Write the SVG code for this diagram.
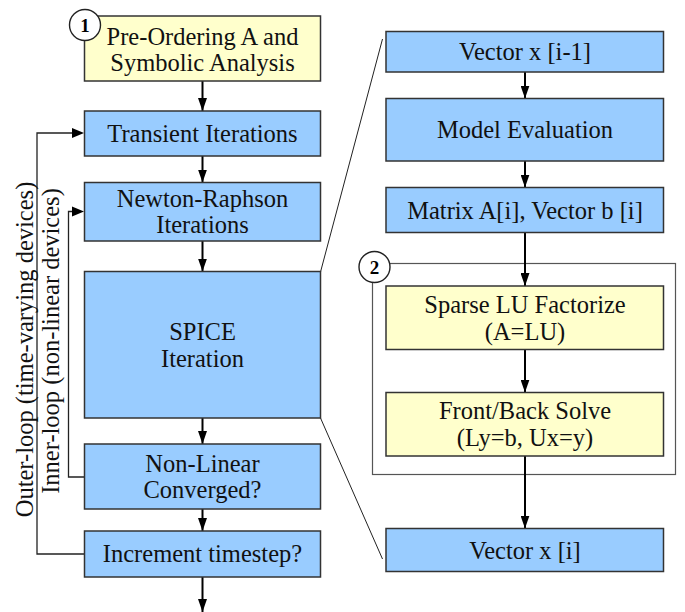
<svg xmlns="http://www.w3.org/2000/svg" width="685" height="612" viewBox="0 0 685 612">
  <defs>
    <marker id="arrowDown" viewBox="0 0 9 13" refX="4.5" refY="13" markerWidth="9" markerHeight="13" markerUnits="userSpaceOnUse" orient="0">
      <path d="M0,0 L9,0 L4.5,13 Z" fill="#000"/>
    </marker>
    <style>
      .blue { fill: #99ccff; stroke: #333; stroke-width: 1.5; }
      .yellow { fill: #ffffcc; stroke: #333; stroke-width: 1.5; }
      .frame { fill: none; stroke: #555; stroke-width: 1.2; }
      .lbl { font-family: 'Liberation Serif', serif; font-size: 24.5px; fill: #111; text-anchor: middle; }
      .num { font-family: 'Liberation Serif', serif; font-size: 19px; font-weight: bold; fill: #000; text-anchor: middle; }
      .badge { fill: #fff; stroke: #222; stroke-width: 1.4; }
      .flow { stroke: #000; stroke-width: 2; fill: none; marker-end: url(#arrowDown); }
      .loop { stroke: #222; stroke-width: 1.3; fill: none; }
      .zoom { stroke: #222; stroke-width: 1; fill: none; }
    </style>
  </defs>

  <rect width="685" height="612" fill="#fff"/>

  <g font-family="Liberation Serif, serif">
  <!-- container around the solver steps -->
  <rect class="frame" x="372.5" y="263.5" width="303" height="211"/>

  <!-- connectors -->
  <g id="connectors">
    <!-- main flow, left column -->
    <line class="flow" x1="202.5" y1="81" x2="202.5" y2="111"/>
    <line class="flow" x1="202.5" y1="156" x2="202.5" y2="182.5"/>
    <line class="flow" x1="202.5" y1="241" x2="202.5" y2="271.5"/>
    <line class="flow" x1="202.5" y1="418" x2="202.5" y2="444"/>
    <line class="flow" x1="202.5" y1="509" x2="202.5" y2="531"/>
    <line class="flow" x1="202.5" y1="577" x2="202.5" y2="612"/>

    <!-- outer loop back to transient iterations -->
    <path class="loop" d="M84,554 H37 V133 H74"/>
    <path d="M72,128 L84,133 L72,138 Z" fill="#000"/>
    <!-- inner loop back to Newton-Raphson -->
    <path class="loop" d="M84,477 H68.5 V211.5 H74"/>
    <path d="M72,206.5 L84,211.5 L72,216.5 Z" fill="#000"/>

    <!-- main flow, right column -->
    <line class="flow" x1="525" y1="72" x2="525" y2="98.5"/>
    <line class="flow" x1="525" y1="161" x2="525" y2="187.5"/>
    <line class="flow" x1="525" y1="232.5" x2="525" y2="286"/>
    <line class="flow" x1="525" y1="349.5" x2="525" y2="392.5"/>
    <line class="flow" x1="525" y1="456" x2="525" y2="528.5"/>

    <!-- expansion lines from SPICE iteration -->
    <line class="zoom" x1="320.5" y1="272" x2="382.5" y2="39"/>
    <line class="zoom" x1="320.5" y1="418" x2="382.5" y2="559"/>
  </g>

  <!-- rotated loop labels -->
  <text class="lbl" transform="translate(33,349.5) rotate(-90)">Outer-loop (time-varying devices)</text>
  <text class="lbl" transform="translate(58.5,341) rotate(-90)">Inner-loop (non-linear devices)</text>

  <!-- left column nodes -->
  <g id="preorder">
    <rect class="yellow" x="84.5" y="16" width="236" height="65"/>
    <text class="lbl" x="202.5" y="44.5">Pre-Ordering A and</text>
    <text class="lbl" x="202.5" y="71">Symbolic Analysis</text>
    <circle class="badge" cx="85" cy="25" r="15.5"/>
    <text class="num" x="85" y="31.5">1</text>
  </g>
  <g id="transient">
    <rect class="blue" x="84.5" y="111" width="236" height="45"/>
    <text class="lbl" x="202.5" y="141.5">Transient Iterations</text>
  </g>
  <g id="newton">
    <rect class="blue" x="84.5" y="182.5" width="236" height="58.5"/>
    <text class="lbl" x="202.5" y="206.5">Newton-Raphson</text>
    <text class="lbl" x="202.5" y="232.5">Iterations</text>
  </g>
  <g id="spice">
    <rect class="blue" x="84.5" y="271.5" width="236" height="146.5"/>
    <text class="lbl" x="202.5" y="340">SPICE</text>
    <text class="lbl" x="202.5" y="366.5">Iteration</text>
  </g>
  <g id="converged">
    <rect class="blue" x="84.5" y="444" width="236" height="65"/>
    <text class="lbl" x="202.5" y="471.5">Non-Linear</text>
    <text class="lbl" x="202.5" y="498">Converged?</text>
  </g>
  <g id="timestep">
    <rect class="blue" x="84.5" y="531" width="236" height="46"/>
    <text class="lbl" x="202.5" y="561.5">Increment timestep?</text>
  </g>

  <!-- right column nodes -->
  <g id="vector-prev">
    <rect class="blue" x="386" y="31.5" width="277.5" height="40.5"/>
    <text class="lbl" x="525" y="60">Vector x [i-1]</text>
  </g>
  <g id="model-eval">
    <rect class="blue" x="386" y="98.5" width="277.5" height="62.5"/>
    <text class="lbl" x="525" y="137.5">Model Evaluation</text>
  </g>
  <g id="matrix">
    <rect class="blue" x="386" y="187.5" width="277.5" height="45"/>
    <text class="lbl" x="525" y="219">Matrix A[i], Vector b [i]</text>
  </g>
  <g id="solver-badge">
    <circle class="badge" cx="374.5" cy="267" r="15.5"/>
    <text class="num" x="374.5" y="273.5">2</text>
  </g>
  <g id="lu-factorize">
    <rect class="yellow" x="386" y="286" width="277.5" height="63.5"/>
    <text class="lbl" x="525" y="312.5">Sparse LU Factorize</text>
    <text class="lbl" x="525" y="339.5">(A=LU)</text>
  </g>
  <g id="solve">
    <rect class="yellow" x="386" y="392.5" width="277.5" height="63.5"/>
    <text class="lbl" x="525" y="418.5">Front/Back Solve</text>
    <text class="lbl" x="525" y="445.5">(Ly=b, Ux=y)</text>
  </g>
  <g id="vector-next">
    <rect class="blue" x="386" y="528.5" width="277.5" height="43"/>
    <text class="lbl" x="525" y="558.5">Vector x [i]</text>
  </g>
  </g>
</svg>
